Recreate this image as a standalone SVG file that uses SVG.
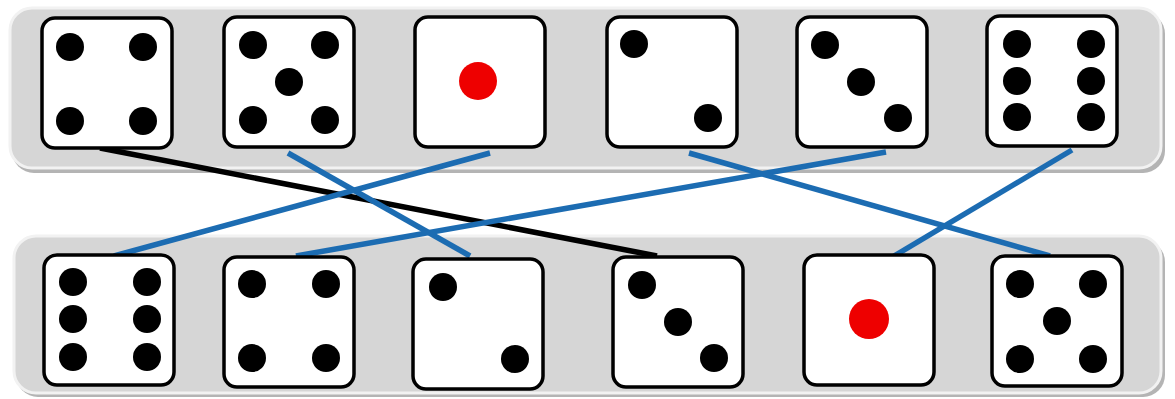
<svg xmlns="http://www.w3.org/2000/svg" xmlns:xlink="http://www.w3.org/1999/xlink" width="1175" height="399" viewBox="0 0 1175 399">
  <style>
    .panel { fill: #d6d6d6; stroke: #f2f2f2; stroke-width: 3; }
    .shadow { fill: #b4b4b4; }
    .face { fill: #ffffff; stroke: #000000; stroke-width: 3.5; }
    .pip { fill: #000000; }
    .red { fill: #ee0000; }
    .blue { stroke: #1c6cb2; stroke-width: 5.5; stroke-linecap: butt; fill: none; }
    .black { stroke: #000000; stroke-width: 5.5; fill: none; }
  </style>
  <defs>
    <rect id="face" x="0" y="0" width="130" height="130" rx="13" ry="13" class="face"/>
  </defs>
  <rect width="1175" height="399" fill="#ffffff"/>

  <g id="panel-top">
    <rect class="shadow" x="12" y="12" width="1153" height="161" rx="22"/>
    <rect class="panel" x="10" y="8" width="1151" height="160" rx="22"/>
  </g>
  <g id="panel-bottom">
    <rect class="shadow" x="16" y="240" width="1149" height="157" rx="22"/>
    <rect class="panel" x="14" y="236" width="1147" height="157" rx="22"/>
  </g>

  <g id="connectors">
    <line class="black" x1="100" y1="148" x2="657" y2="256"/>
    <line class="blue" x1="288" y1="153" x2="470" y2="256"/>
    <line class="blue" x1="490" y1="153" x2="114" y2="256"/>
    <line class="blue" x1="886" y1="152" x2="296" y2="256"/>
    <line class="blue" x1="689" y1="153" x2="1050" y2="256"/>
    <line class="blue" x1="1072" y1="150" x2="894" y2="256"/>
  </g>

  <!-- top row -->
  <g id="top-4" transform="translate(42,18)">
    <use xlink:href="#face"/>
    <circle class="pip" cx="28" cy="29" r="14"/>
    <circle class="pip" cx="101" cy="29" r="14"/>
    <circle class="pip" cx="28" cy="103" r="14"/>
    <circle class="pip" cx="101" cy="103" r="14"/>
  </g>
  <g id="top-5" transform="translate(224,17)">
    <use xlink:href="#face"/>
    <circle class="pip" cx="29" cy="28" r="14"/>
    <circle class="pip" cx="101" cy="28" r="14"/>
    <circle class="pip" cx="65" cy="65" r="14"/>
    <circle class="pip" cx="29" cy="103" r="14"/>
    <circle class="pip" cx="101" cy="103" r="14"/>
  </g>
  <g id="top-1" transform="translate(415,17)">
    <use xlink:href="#face"/>
    <circle class="red" cx="63" cy="64" r="19"/>
  </g>
  <g id="top-2" transform="translate(607,17)">
    <use xlink:href="#face"/>
    <circle class="pip" cx="27" cy="27" r="14"/>
    <circle class="pip" cx="101" cy="101" r="14"/>
  </g>
  <g id="top-3" transform="translate(797,17)">
    <use xlink:href="#face"/>
    <circle class="pip" cx="28" cy="28" r="14"/>
    <circle class="pip" cx="64" cy="65" r="14"/>
    <circle class="pip" cx="101" cy="101" r="14"/>
  </g>
  <g id="top-6" transform="translate(987,16)">
    <use xlink:href="#face"/>
    <circle class="pip" cx="30" cy="28" r="14"/>
    <circle class="pip" cx="104" cy="28" r="14"/>
    <circle class="pip" cx="30" cy="65" r="14"/>
    <circle class="pip" cx="104" cy="65" r="14"/>
    <circle class="pip" cx="30" cy="101" r="14"/>
    <circle class="pip" cx="104" cy="101" r="14"/>
  </g>

  <!-- bottom row -->
  <g id="bottom-6" transform="translate(44,255)">
    <use xlink:href="#face"/>
    <circle class="pip" cx="29" cy="27" r="14"/>
    <circle class="pip" cx="103" cy="27" r="14"/>
    <circle class="pip" cx="29" cy="64" r="14"/>
    <circle class="pip" cx="103" cy="64" r="14"/>
    <circle class="pip" cx="29" cy="102" r="14"/>
    <circle class="pip" cx="103" cy="102" r="14"/>
  </g>
  <g id="bottom-4" transform="translate(224,257)">
    <use xlink:href="#face"/>
    <circle class="pip" cx="28" cy="27" r="14"/>
    <circle class="pip" cx="102" cy="27" r="14"/>
    <circle class="pip" cx="28" cy="101" r="14"/>
    <circle class="pip" cx="102" cy="101" r="14"/>
  </g>
  <g id="bottom-2" transform="translate(413,259)">
    <use xlink:href="#face"/>
    <circle class="pip" cx="30" cy="28" r="14"/>
    <circle class="pip" cx="102" cy="100" r="14"/>
  </g>
  <g id="bottom-3" transform="translate(613,257)">
    <use xlink:href="#face"/>
    <circle class="pip" cx="29" cy="28" r="14"/>
    <circle class="pip" cx="65" cy="65" r="14"/>
    <circle class="pip" cx="101" cy="101" r="14"/>
  </g>
  <g id="bottom-1" transform="translate(804,255)">
    <use xlink:href="#face"/>
    <circle class="red" cx="65" cy="64" r="20"/>
  </g>
  <g id="bottom-5" transform="translate(992,256)">
    <use xlink:href="#face"/>
    <circle class="pip" cx="28" cy="28" r="14"/>
    <circle class="pip" cx="101" cy="28" r="14"/>
    <circle class="pip" cx="65" cy="65" r="14"/>
    <circle class="pip" cx="28" cy="103" r="14"/>
    <circle class="pip" cx="101" cy="103" r="14"/>
  </g>
</svg>
